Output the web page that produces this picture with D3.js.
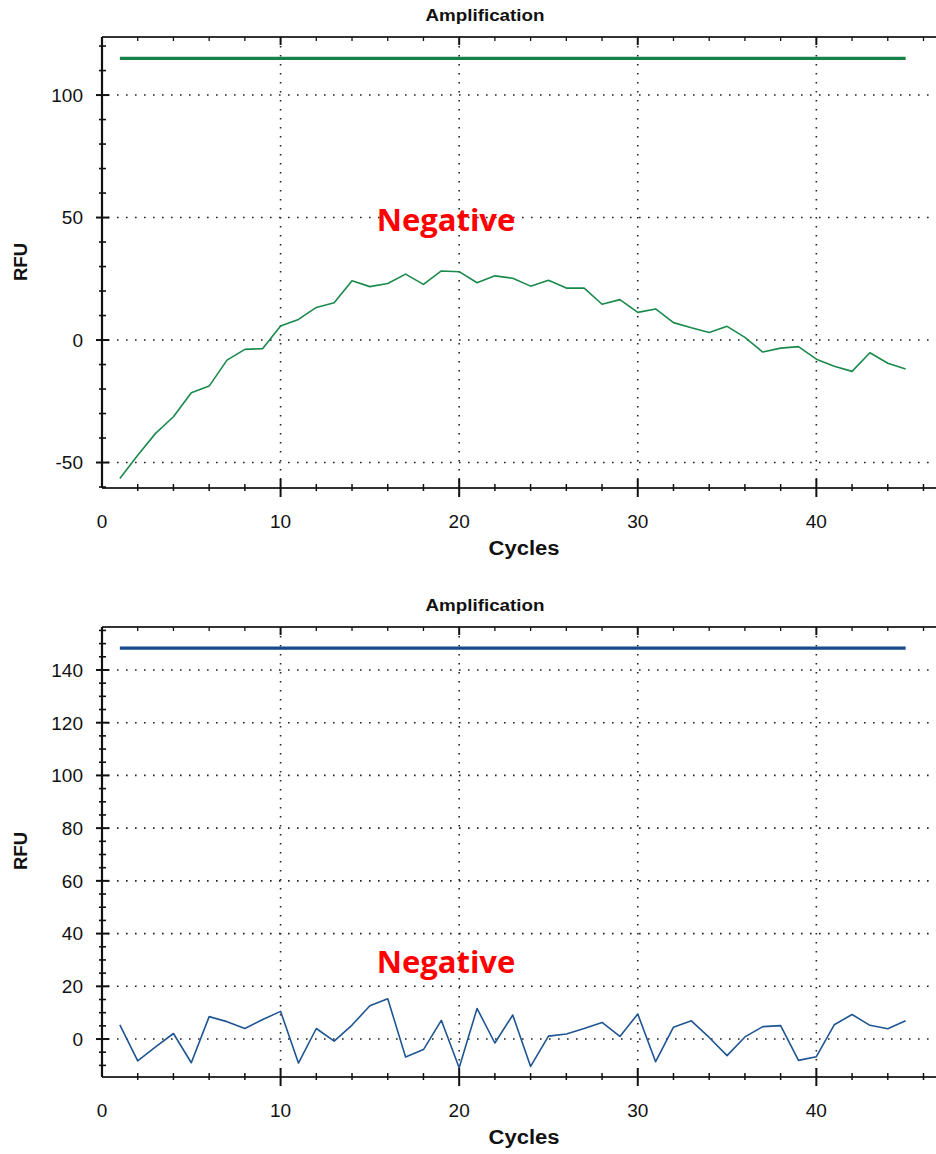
<!DOCTYPE html>
<html>
<head>
<meta charset="utf-8">
<script src="https://cdn.jsdelivr.net/npm/d3@7"></script>
<style>
  html, body { margin: 0; padding: 0; background: #fff; }
  svg { display: block; }
</style>
</head>
<body>
<svg id="chart" width="936" height="1154"></svg>
<script>
// ---------------- DATA ----------------
const cycles = d3.range(1, 46);
const xTickLabels = [0, 10, 20, 30, 40];

const topValues = [-56.5, -47.0, -38.1, -31.3, -21.5, -18.8, -8.2, -3.8, -3.5, 5.7,
  8.4, 13.3, 15.2, 24.2, 21.8, 23.1, 26.9, 22.7, 28.2, 27.9,
  23.4, 26.2, 25.2, 22.0, 24.4, 21.2, 21.2, 14.6, 16.5, 11.3,
  12.7, 7.1, 5.0, 3.1, 5.6, 1.1, -4.9, -3.3, -2.7, -7.8,
  -10.7, -12.8, -5.2, -9.5, -11.8];
const topThreshold = 115;
const topYTicks = [-50, 0, 50, 100];

const bottomValues = [5.4, -8.3, -3.0, 2.1, -9.0, 8.5, 6.6, 4.0, 7.4, 10.5,
  -9.1, 4.0, -0.8, 5.3, 12.6, 15.3, -6.8, -4.0, 7.1, -10.9,
  11.6, -1.5, 9.1, -10.4, 1.1, 1.9, 4.0, 6.3, 1.0, 9.5,
  -8.6, 4.5, 6.9, 0.6, -6.3, 0.8, 4.7, 5.1, -8.1, -6.7,
  5.4, 9.3, 5.2, 3.9, 6.9];
const bottomThreshold = 148.3;
const bottomYTicks = [0, 20, 40, 60, 80, 100, 120, 140];

const titleText = "Amplification";
const xLabel = "Cycles";
const yLabel = "RFU";
const noteText = "Negative";

// ---------------- DRAW ----------------
const svg = d3.select("#chart");
const FONT = "Liberation Sans, Arial, sans-serif";

function panel(cfg) {
  const g = svg.append("g");
  const x = d3.scaleLinear().domain([0, 46.7]).range([102, 936]);
  const y = d3.scaleLinear().domain(cfg.yDomain).range([cfg.bottom, cfg.top]);
  const L = 102, R = 936, T = cfg.top, B = cfg.bottom;

  // gridlines (dotted)
  const grid = g.append("g").attr("stroke", "#222").attr("stroke-width", 1.6)
    .attr("stroke-dasharray", "1.6,7.4").attr("fill", "none");
  cfg.yTicks.forEach(v => {
    grid.append("line").attr("x1", L + 6).attr("x2", R).attr("y1", y(v)).attr("y2", y(v));
  });
  [10, 20, 30, 40].forEach(v => {
    grid.append("line").attr("x1", x(v)).attr("x2", x(v)).attr("y1", T + 9).attr("y2", B - 8);
  });

  // frame: left axis, top line, bottom axis
  const ax = g.append("g").attr("stroke", "#111").attr("fill", "none");
  ax.append("line").attr("x1", L).attr("x2", R).attr("y1", B).attr("y2", B).attr("stroke-width", 2).attr("stroke", "#333");
  ax.append("line").attr("x1", L).attr("x2", R).attr("y1", T).attr("y2", T).attr("stroke-width", 2).attr("stroke", "#333");
  ax.append("line").attr("x1", L).attr("x2", L).attr("y1", T).attr("y2", B).attr("stroke-width", 2.2);

  // x ticks (bottom & top)
  const xMinor = d3.range(2, 47, 2);
  xMinor.forEach(v => {
    const major = v % 10 === 0;
    ax.append("line").attr("x1", x(v)).attr("x2", x(v))
      .attr("y1", B - (major ? 9 : 4)).attr("y2", B + (major ? 9 : 3))
      .attr("stroke-width", major ? 2 : 1.5);
    ax.append("line").attr("x1", x(v)).attr("x2", x(v))
      .attr("y1", T).attr("y2", T + (major ? 8 : 4))
      .attr("stroke-width", major ? 2 : 1.3);
  });

  // y ticks
  cfg.yMinor.forEach(v => {
    const major = cfg.yTicks.includes(v);
    ax.append("line").attr("x1", L - (major ? 6 : 3)).attr("x2", L + (major ? 7 : 4))
      .attr("y1", y(v)).attr("y2", y(v)).attr("stroke-width", major ? 2 : 1.6);
  });

  // tick labels
  const lab = g.append("g").attr("font-family", FONT)
    .attr("font-size", 19).attr("fill", "#111");
  cfg.yTicks.forEach(v => {
    lab.append("text").attr("x", 83).attr("y", y(v)).attr("dy", "0.36em")
      .attr("text-anchor", "end").text(v);
  });
  xTickLabels.forEach(v => {
    lab.append("text").attr("x", x(v)).attr("y", B + 40)
      .attr("text-anchor", "middle").text(v);
  });

  // titles
  g.append("text").attr("x", 485).attr("y", T - 16).attr("text-anchor", "middle")
    .attr("font-family", FONT).attr("font-weight", "bold")
    .attr("font-size", 17).attr("textLength", 119).attr("lengthAdjust", "spacingAndGlyphs")
    .attr("fill", "#111").text(titleText);
  g.append("text").attr("x", 524).attr("y", B + 67).attr("text-anchor", "middle")
    .attr("font-family", FONT).attr("font-weight", "bold")
    .attr("font-size", 20).attr("textLength", 71).attr("lengthAdjust", "spacingAndGlyphs")
    .attr("fill", "#111").text(xLabel);
  g.append("text").attr("transform", `translate(27,${cfg.rfuY}) rotate(-90)`).attr("text-anchor", "middle")
    .attr("font-family", FONT).attr("font-weight", "bold")
    .attr("font-size", 18).attr("textLength", 38).attr("lengthAdjust", "spacingAndGlyphs")
    .attr("fill", "#111").text(yLabel);

  // threshold
  g.append("line").attr("x1", x(1)).attr("x2", x(45))
    .attr("y1", y(cfg.threshold)).attr("y2", y(cfg.threshold))
    .attr("stroke", cfg.threshColor).attr("stroke-width", 3.2);

  // data line
  const line = d3.line().x((d, i) => x(cycles[i])).y(d => y(d));
  g.append("path").datum(cfg.values).attr("d", line)
    .attr("fill", "none").attr("stroke", cfg.color).attr("stroke-width", 1.6)
    .attr("stroke-linejoin", "round");

  // note
  g.append("text").attr("x", 446).attr("y", cfg.noteY).attr("text-anchor", "middle")
    .attr("font-family", "Open Sans, sans-serif").attr("font-weight", "bold")
    .attr("font-size", 31).attr("fill", "#ff0000").text(noteText);
}

panel({
  top: 37, bottom: 488, yDomain: [-60.4, 123.7],
  yTicks: topYTicks, yMinor: d3.range(-60, 121, 10),
  values: topValues, threshold: topThreshold,
  color: "#1a8a4c", threshColor: "#16824a",
  rfuY: 262, noteY: 231
});
panel({
  top: 627, bottom: 1077, yDomain: [-14.4, 156.3],
  yTicks: bottomYTicks, yMinor: d3.range(-10, 156, 5),
  values: bottomValues, threshold: bottomThreshold,
  color: "#1f5593", threshColor: "#174a8b",
  rfuY: 851, noteY: 973
});
</script>
</body>
</html>
